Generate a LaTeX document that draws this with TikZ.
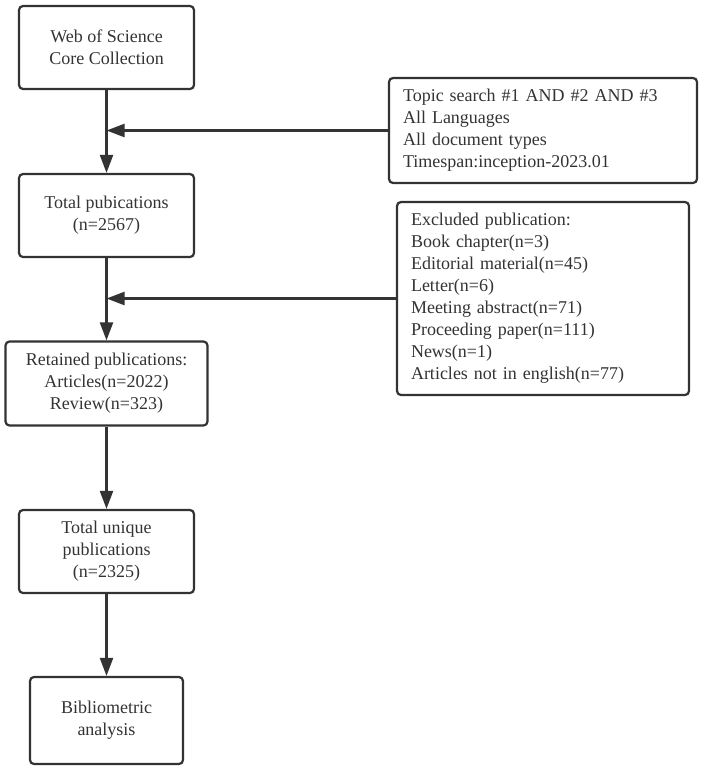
\documentclass[tikz,border=0pt]{standalone}
\usepackage{fontspec}
\setmainfont{Liberation Serif}
\usepackage{xcolor}
\usepackage{tikz}
\usetikzlibrary{shapes,arrows.meta}
\definecolor{linegray}{HTML}{333333}
\tikzstyle{block} = [rectangle, draw=linegray, text=linegray, line width=2.2pt,
    minimum width=175pt, minimum height=83pt, align=center, rounded corners=4pt,
    font=\fontsize{18pt}{22pt}\selectfont]
\tikzstyle{wideblock} = [block, minimum width=202pt, minimum height=84pt]
\tikzstyle{smallblock} = [block, minimum width=153pt, minimum height=87pt]
\tikzstyle{infobox} = [rectangle, draw=linegray, text=linegray, line width=2.2pt,
    inner xsep=14pt, align=left, rounded corners=4pt,
    font=\fontsize{18pt}{22pt}\selectfont]
\tikzstyle{arrow} = [draw=linegray, line width=2.2pt, -{Triangle[length=18pt,width=13pt]}]

\begin{document}
\begin{tikzpicture}[node distance=168pt]
      \useasboundingbox (0,0) rectangle (702pt,-768pt);
      % Place nodes
      \node [block] (wos) at (106.5pt,-47.5pt) {Web of Science\\Core Collection};
      \node [block, below of=wos] (total) {Total pubications\\(n=2567)};
      \node [wideblock, below of=total] (retained) {Retained publications:\\Articles(n=2022)\\Review(n=323)};
      \node [block, below of=retained] (unique) {Total unique\\publications\\(n=2325)};
      \node [smallblock, below of=unique, yshift=-1pt] (biblio) {Bibliometric\\analysis};

      \node [infobox, text width=280pt, minimum height=105pt, right of=wos, node distance=436.5pt, yshift=-83pt] (search) {Topic search \#1 AND \#2 AND \#3\\All Languages\\All document types\\Timespan:inception-2023.01};
      \node [infobox, text width=264pt, minimum height=193pt, below of=search] (excluded) {Excluded publication:\\Book chapter(n=3)\\Editorial material(n=45)\\Letter(n=6)\\Meeting abstract(n=71)\\Proceeding paper(n=111)\\News(n=1)\\Articles not in english(n=77)};

      \coordinate (joinSearch) at (wos.south |- search.west);
      \coordinate (joinExcluded) at (total.south |- excluded.west);

      \path [arrow] (wos) -- (total);
      \path [arrow] (total) -- (retained);
      \path [arrow] (retained) -- (unique);
      \path [arrow] (unique) -- (biblio);

      \path [arrow] (search) -- (joinSearch);
      \path [arrow] (excluded) -- (joinExcluded);
\end{tikzpicture}
\end{document}
